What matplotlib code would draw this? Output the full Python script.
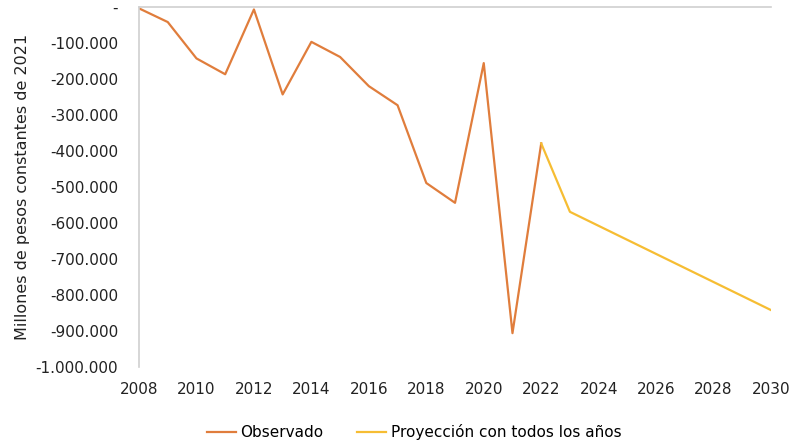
import matplotlib.pyplot as plt
from matplotlib.ticker import FuncFormatter

plt.rcParams['font.family'] = ['DejaVu Sans']

# datos (millones de pesos de 2021)
anios_obs = [2008, 2009, 2010, 2011, 2012, 2013, 2014, 2015, 2016, 2017,
             2018, 2019, 2020, 2021, 2022]
observado = [-4000, -42000, -143000, -187000, -7000, -243000, -97000, -139000,
             -220000, -273000, -489000, -544000, -156000, -906000, -379000]

anios_proy = [2022, 2023, 2024, 2025, 2026, 2027, 2028, 2029, 2030]
proyeccion = [-379000, -569000, -608000, -647000, -686000, -725000, -764000,
              -803000, -842000]

x_ticks = list(range(2008, 2031, 2))
y_ticks = list(range(-1000000, 1, 100000))


def fmt_miles(v, pos):
    if v == 0:
        return '-'
    return '{:,.0f}'.format(v).replace(',', '.')


fig = plt.figure(figsize=(7.93, 4.44), dpi=100)
ax = fig.add_axes([0.1753, 0.1734, 0.797, 0.811])

ax.plot(anios_obs, observado, color='#E07D3C', lw=1.6, label='Observado')
ax.plot(anios_proy, proyeccion, color='#F6BD33', lw=1.6,
        label='Proyección con todos los años')

ax.set_xlim(2008, 2030)
ax.set_ylim(-1000000, 0)
ax.set_xticks(x_ticks)
ax.set_yticks(y_ticks)
ax.yaxis.set_major_formatter(FuncFormatter(fmt_miles))
ax.tick_params(axis='both', length=0, labelsize=11, colors='#222222')
ax.tick_params(axis='x', pad=11)
ax.tick_params(axis='y', pad=15)

for s in ['right', 'bottom']:
    ax.spines[s].set_visible(False)
for s in ['left', 'top']:
    ax.spines[s].set_color('#D0D0D0')
    ax.spines[s].set_linewidth(1.2)

ax.set_ylabel('Millones de pesos constantes de 2021', fontsize=11.5,
              color='#222222', labelpad=4)

ax.legend(loc='upper center', bbox_to_anchor=(0.435, -0.12), ncol=2,
          frameon=False, fontsize=11, handlelength=1.9, handletextpad=0.3,
          columnspacing=2.2)

plt.savefig('out.png', dpi=100)
